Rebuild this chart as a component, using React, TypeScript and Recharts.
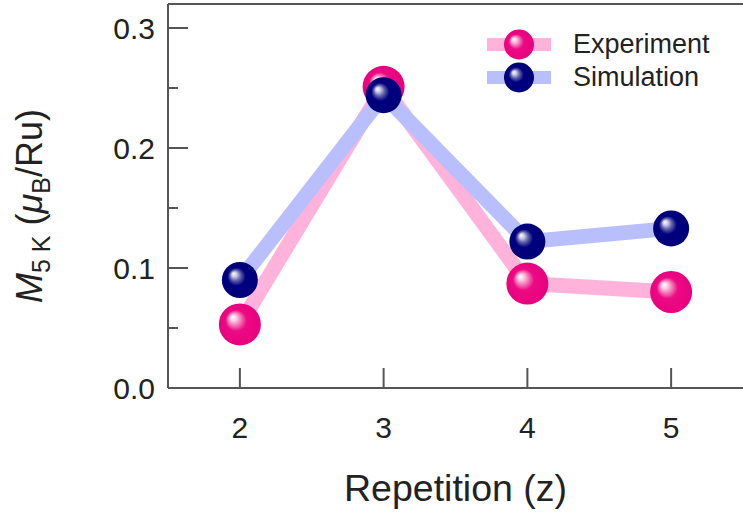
import { LineChart, Line, XAxis, YAxis, Legend, ReferenceLine } from "recharts";

const repetitions = [2, 3, 4, 5];
const experiment = [0.053, 0.251, 0.087, 0.08];
const simulation = [0.09, 0.244, 0.122, 0.133];

const yMajorTicks = [0, 0.1, 0.2, 0.3];
const yAllTicks = [0, 0.05, 0.1, 0.15, 0.2, 0.25, 0.3];

const data = repetitions.map((z, i) => ({
  z,
  experiment: experiment[i],
  simulation: simulation[i],
}));

const FONT = "'Liberation Sans', Arial, Helvetica, sans-serif";
const AXIS = "#555";

const YTick = (props: any) => {
  const { x, y, payload } = props;
  const v = payload.value;
  const major = yMajorTicks.some((t) => Math.abs(t - v) < 1e-9);
  return (
    <g>
      <line x1={x} x2={x + (major ? 20 : 10)} y1={y} y2={y} stroke={AXIS} strokeWidth={2} />
      {major && (
        <text x={x - 13} y={y} dy={10.5} textAnchor="end" fontSize={30} fill="#222" fontFamily={FONT}>
          {v.toFixed(1)}
        </text>
      )}
    </g>
  );
};

const XTick = (props: any) => {
  const { x, y, payload } = props;
  return (
    <g>
      <line x1={x} x2={x} y1={y} y2={y - 20} stroke={AXIS} strokeWidth={2} />
      <text x={x} y={y + 50} textAnchor="middle" fontSize={30} fill="#222" fontFamily={FONT}>
        {payload.value}
      </text>
    </g>
  );
};

// shaded sphere marker
const ball = (gradId: string, r: number) => (props: any) => {
  const { cx, cy, index } = props;
  if (cx == null || cy == null) return <g key={index} />;
  return <circle key={index} cx={cx} cy={cy} r={r} fill={`url(#${gradId})`} />;
};

const YLabel = () => (
  <text
    transform="translate(42, 206) rotate(-90)"
    textAnchor="middle"
    fontSize={36}
    fill="#222"
    fontFamily={FONT}
  >
    <tspan fontStyle="italic">M</tspan>
    <tspan fontSize={25} dy={8}>5 K</tspan>
    <tspan dy={-8}> (</tspan>
    <tspan fontStyle="italic">μ</tspan>
    <tspan fontSize={25} dy={8}>B</tspan>
    <tspan dy={-8}>/Ru)</tspan>
  </text>
);

const gradStops = (grad: string) =>
  grad === "exp" ? (
    <>
      <stop offset="0" stopColor="#ffffff" />
      <stop offset="0.14" stopColor="#fbd0e6" />
      <stop offset="0.3" stopColor="#f27ab8" />
      <stop offset="0.5" stopColor="#ee0a84" />
      <stop offset="1" stopColor="#e8007e" />
    </>
  ) : (
    <>
      <stop offset="0" stopColor="#ffffff" />
      <stop offset="0.14" stopColor="#c8c8e6" />
      <stop offset="0.3" stopColor="#6060a8" />
      <stop offset="0.5" stopColor="#000080" />
      <stop offset="1" stopColor="#00007a" />
    </>
  );

const LegendBall = ({ line, grad }: { line: string; grad: string }) => (
  <svg width={64} height={33}>
    <defs>
      <radialGradient id={`lg-${grad}`} cx="0.5" cy="0.5" r="0.5" fx="0.32" fy="0.32">
        {gradStops(grad)}
      </radialGradient>
    </defs>
    <rect x={0} y={10} width={64} height={13} fill={line} />
    <circle cx={32} cy={16.5} r={15} fill={`url(#lg-${grad})`} />
  </svg>
);

const renderLegend = () => (
  <div style={{ fontFamily: FONT, fontSize: 27, color: "#222" }}>
    <div style={{ display: "flex", alignItems: "center", height: 33 }}>
      <LegendBall line="#ffb3da" grad="exp" />
      <span style={{ marginLeft: 22 }}>Experiment</span>
    </div>
    <div style={{ display: "flex", alignItems: "center", height: 33 }}>
      <LegendBall line="#b9bffc" grad="sim" />
      <span style={{ marginLeft: 22 }}>Simulation</span>
    </div>
  </div>
);

export default function App() {
  return (
    <div style={{ position: "absolute", left: 0, top: 0, width: 743, height: 515, background: "#fff" }}>
      <LineChart width={743} height={515} data={data} margin={{ top: 4, right: 0, bottom: 0, left: 0 }}>
        <defs>
          <radialGradient id="gradExp" cx="0.5" cy="0.5" r="0.5" fx="0.32" fy="0.32">
            {gradStops("exp")}
          </radialGradient>
          <radialGradient id="gradSim" cx="0.5" cy="0.5" r="0.5" fx="0.32" fy="0.32">
            {gradStops("sim")}
          </radialGradient>
        </defs>
        <XAxis
          dataKey="z"
          type="number"
          domain={[1.5, 5.5]}
          ticks={repetitions}
          height={127}
          axisLine={{ stroke: AXIS, strokeWidth: 2 }}
          tickLine={false}
          tickSize={0}
          tickMargin={0}
          tick={<XTick />}
          label={{
            value: "Repetition (z)",
            position: "insideBottom",
            offset: 14,
            fontSize: 37.5,
            fill: "#222",
            fontFamily: FONT,
          }}
        />
        <YAxis
          type="number"
          domain={[0, 0.32]}
          ticks={yAllTicks}
          width={168}
          axisLine={{ stroke: AXIS, strokeWidth: 2 }}
          tickLine={false}
          tickSize={0}
          tickMargin={0}
          tick={<YTick />}
          interval={0}
          label={<YLabel />}
        />
        <ReferenceLine y={0.32} stroke={AXIS} strokeWidth={2} />
        <Legend
          layout="vertical"
          align="center"
          verticalAlign="middle"
          content={renderLegend}
          wrapperStyle={{ position: "absolute", left: 487, top: 28, width: 250 }}
        />
        <Line
          dataKey="experiment"
          stroke="#ffb3da"
          strokeWidth={15}
          strokeLinejoin="round"
          dot={false}
          activeDot={false}
          isAnimationActive={false}
        />
        <Line
          dataKey="simulation"
          stroke="#b9bffc"
          strokeWidth={15}
          strokeLinejoin="round"
          dot={false}
          activeDot={false}
          isAnimationActive={false}
        />
        <Line
          dataKey="experiment"
          stroke="none"
          dot={ball("gradExp", 21)}
          activeDot={false}
          isAnimationActive={false}
          legendType="none"
        />
        <Line
          dataKey="simulation"
          stroke="none"
          dot={ball("gradSim", 18)}
          activeDot={false}
          isAnimationActive={false}
          legendType="none"
        />
      </LineChart>
    </div>
  );
}
